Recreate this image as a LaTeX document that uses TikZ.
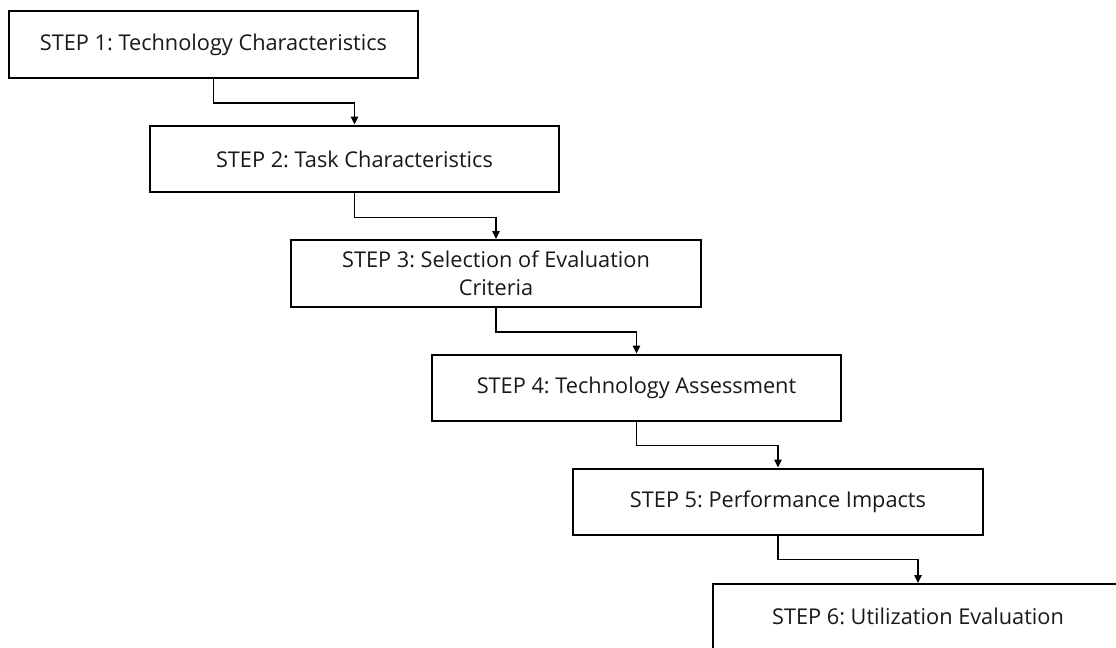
\documentclass[tikz,border=0pt]{standalone}
\usepackage{fontspec}
\setmainfont{Open Sans}
\usetikzlibrary{arrows.meta}
\frenchspacing
\begin{document}
\begin{tikzpicture}[x=0.75pt,y=-0.75pt,
  lbl/.style={text=black!90,font=\fontsize{16.3pt}{21pt}\selectfont},
  stepbox/.style={draw=black,line width=1.6pt,fill=white,
    minimum width=307pt,minimum height=50pt,inner sep=0pt,
    align=center,lbl},
  flow/.style={line width=1.3pt,-{Triangle[length=6pt,width=5.5pt]}}]
\useasboundingbox (0,0) rectangle (1116,648);
\clip (0,0) rectangle (1116,648);
% the six steps, stepping down to the right
\node[stepbox] (s1) at (213.5,44.5) {STEP 1: Technology Characteristics};
\node[stepbox] (s2) at (354.5,159) {STEP 2: Task Characteristics};
\node[stepbox] (s3) at (496,273.5) {STEP 3: Selection of Evaluation\\Criteria};
\node[stepbox] (s4) at (636.5,388) {STEP 4: Technology Assessment};
\node[stepbox] (s5) at (778,502) {STEP 5: Performance Impacts};
\node[stepbox,minimum height=67pt,anchor=north] (s6) at (918,583) {};
\node[lbl] (t6) at (918,616.5) {STEP 6: Utilization Evaluation};
% elbow connectors between consecutive steps
\draw[flow] (s1.south) -- ++(0,24) -| (s2.north);
\draw[flow] (s2.south) -- ++(0,24) -| (s3.north);
\draw[flow] (s3.south) -- ++(0,24) -| (s4.north);
\draw[flow] (s4.south) -- ++(0,23) -| (s5.north);
\draw[flow] (s5.south) -- ++(0,23) -| (s6.north);
\end{tikzpicture}
\end{document}
